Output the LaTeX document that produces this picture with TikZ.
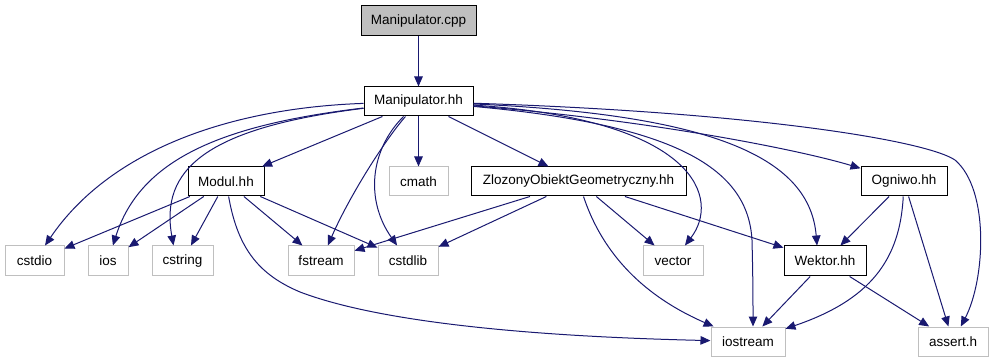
\documentclass[tikz,border=0pt]{standalone}
\usepackage{fontspec}
\setmainfont{Liberation Sans}
\usetikzlibrary{arrows.meta}
\definecolor{edgeblue}{RGB}{25,25,112}
\definecolor{sysgray}{RGB}{191,191,191}
\begin{document}
\begin{tikzpicture}[x=1pt,y=-1pt,
  every node/.style={font=\fontsize{13.5}{15}\selectfont, inner sep=0pt, minimum height=29pt},
  file/.style={draw=black, line width=1pt, fill=white},
  sysfile/.style={draw=sysgray, line width=1pt, fill=white},
  mainfile/.style={draw=black, line width=1pt, fill=sysgray},
  dep/.style={draw=edgeblue, line width=1pt, -{Triangle[length=10pt,width=8.5pt]}}]
\useasboundingbox (0,0) rectangle (993,363);

% source file and its header
\node[mainfile, minimum width=115pt, minimum height=30pt] (cpp) at (418.5,21) {Manipulator.cpp};
\node[file, minimum width=109pt] (mhh) at (418.5,101.5) {Manipulator.hh};

% second level
\node[file, minimum width=76pt] (modul) at (226,181.5) {Modul.hh};
\node[sysfile, minimum width=59pt] (cmath) at (418.5,181.5) {cmath};
\node[file, minimum width=215pt] (zlo) at (578.5,181.5) {ZlozonyObiektGeometryczny.hh};
\node[file, minimum width=86pt] (ogn) at (904,181.5) {Ogniwo.hh};

% third level
\node[sysfile, minimum width=59pt, minimum height=30pt] (cstdio) at (34.5,261) {cstdio};
\node[sysfile, minimum width=40pt, minimum height=30pt] (ios) at (108,261) {ios};
\node[sysfile, minimum width=61pt, minimum height=30pt] (cstring) at (182.5,261) {cstring};
\node[sysfile, minimum width=66pt, minimum height=30pt] (fstream) at (321,261) {fstream};
\node[sysfile, minimum width=60pt, minimum height=30pt] (cstdlib) at (408,261) {cstdlib};
\node[sysfile, minimum width=60pt, minimum height=30pt] (vector) at (673,261) {vector};
\node[file, minimum width=82pt, minimum height=30pt] (wektor) at (825,261) {Wektor.hh};

% bottom level
\node[sysfile, minimum width=74pt] (iostream) at (748,341.5) {iostream};
\node[sysfile, minimum width=70pt] (assert) at (953,341.5) {assert.h};

% straight dependencies
\draw[dep] (cpp) -- (mhh);
\draw[dep] (mhh) -- (modul);
\draw[dep] (mhh) -- (cmath);
\draw[dep] (mhh) -- (zlo);
\draw[dep] (modul) -- (cstdio);
\draw[dep] (modul) -- (ios);
\draw[dep] (modul) -- (cstring);
\draw[dep] (modul) -- (fstream);
\draw[dep] (modul) -- (cstdlib);
\draw[dep] (zlo) -- (fstream);
\draw[dep] (zlo) -- (cstdlib);
\draw[dep] (zlo) -- (vector);
\draw[dep] (zlo) -- (wektor);
\draw[dep] (ogn) -- (wektor);
\draw[dep] (ogn) -- (assert);
\draw[dep] (wektor) -- (iostream);
\draw[dep] (wektor) -- (assert);

% curved dependencies of Manipulator.hh
\draw[dep] (mhh) .. controls (230,108) and (110,150) .. (cstdio);
\draw[dep] (mhh) .. controls (220,125) and (140,160) .. (ios);
\draw[dep] (mhh) .. controls (205,128) and (160,170) .. ([xshift=-9pt]cstring.north);
\draw[dep] (mhh) .. controls (385,140) and (350,195) .. (fstream);
\draw[dep] (mhh) .. controls (370,150) and (365,200) .. (cstdlib);
\draw[dep] (mhh) .. controls (700,120) and (720,200) .. (vector);
\draw[dep] (mhh) .. controls (680,125) and (748,170) .. (752,240)
  .. controls (753,280) and (753,300) .. ([xshift=5pt]iostream.north);
\draw[dep] (mhh) .. controls (720,115) and (810,160) .. ([xshift=-8pt]wektor.north);
\draw[dep] (mhh) .. controls (650,120) and (800,150) .. (ogn);
\draw[dep] (mhh) .. controls (750,112) and (925,140) .. (955,160)
  .. controls (990,190) and (985,280) .. (assert);

% other curved dependencies
\draw[dep] (modul) .. controls (238,250) and (260,275) .. (300,292)
  .. controls (400,330) and (600,338) .. (iostream);
\draw[dep] (zlo) .. controls (598,240) and (630,290) .. (iostream);
\draw[dep] (ogn) .. controls (900,260) and (870,300) .. (iostream);
\end{tikzpicture}
\end{document}
